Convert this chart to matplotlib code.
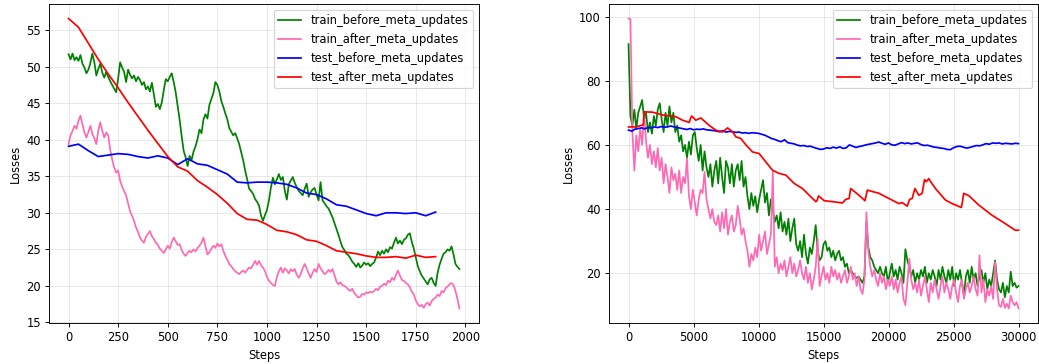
import numpy as np
import matplotlib
matplotlib.use("Agg")
import matplotlib.pyplot as plt

labels = ["train_before_meta_updates", "train_after_meta_updates",
          "test_before_meta_updates", "test_after_meta_updates"]
colors = ["green", "hotpink", "blue", "red"]

# ---------------- left panel (steps 0..1970, every 10) ----------------
left_train_before = [
    51.7, 51.0, 51.8, 50.9, 51.3, 50.8, 51.6, 50.4, 49.9, 49.1,
    49.6, 50.5, 51.8, 50.6, 48.8, 49.7, 50.4, 49.2, 48.5, 49.3,
    48.6, 48.0, 47.5, 47.0, 46.5, 48.4, 50.6, 49.9, 49.3, 47.9,
    49.6, 48.9, 48.4, 48.8, 48.0, 48.6, 48.2, 47.5, 47.9, 46.9,
    47.3, 46.6, 47.8, 46.2, 44.5, 44.9, 44.2, 45.1, 46.8, 48.3,
    48.0, 48.6, 49.1, 47.9, 46.5, 44.6, 42.7, 40.5, 38.5, 37.6,
    36.4, 37.8, 37.2, 38.4, 39.1, 40.1, 41.4, 40.9, 42.8, 43.5,
    42.9, 44.8, 45.6, 46.4, 47.9, 47.5, 46.6, 45.3, 44.5, 43.6,
    42.8, 41.6, 41.1, 40.6, 40.9, 40.2, 39.4, 38.3, 37.2, 35.8,
    34.6, 33.3, 33.0, 32.6, 31.9, 31.5, 31.0, 29.6, 28.9, 29.7,
    30.4, 31.7, 33.5, 34.8, 33.9, 34.6, 35.3, 34.5, 34.9, 33.0,
    31.8, 33.9, 34.4, 34.9, 34.1, 33.5, 33.0, 32.7, 32.4, 33.3,
    34.0, 32.2, 32.8, 33.2, 33.4, 32.5, 31.7, 34.2, 31.7, 31.3,
    30.9, 30.6, 30.0, 29.4, 28.6, 27.8, 27.0, 26.1, 25.3, 24.9,
    24.4, 24.2, 23.8, 23.3, 23.0, 22.6, 23.1, 22.5, 22.8, 23.2,
    22.9, 23.1, 22.7, 23.0, 23.2, 23.9, 24.7, 24.2, 24.8, 24.4,
    25.0, 24.6, 25.3, 25.1, 25.9, 26.6, 25.8, 26.2, 25.7, 26.3,
    26.5, 27.0, 27.2, 26.0, 25.1, 23.9, 22.7, 22.0, 21.4, 21.0,
    20.6, 20.2, 20.9, 21.1, 20.4, 20.0, 21.8, 22.9, 23.7, 24.4,
    24.6, 25.0, 24.8, 25.4, 24.3, 23.0, 22.6, 22.3,
]
left_train_after = [
    39.4, 40.6, 41.2, 41.9, 41.5, 42.6, 43.3, 42.1, 41.0, 40.3,
    41.1, 41.9, 40.8, 40.2, 39.4, 41.3, 42.4, 41.2, 40.3, 41.0,
    40.6, 38.6, 37.3, 36.2, 35.5, 35.8, 34.4, 33.6, 33.0, 32.4,
    31.3, 30.2, 29.6, 28.9, 28.0, 27.4, 26.6, 26.2, 25.9, 26.7,
    27.1, 27.5, 26.8, 26.4, 25.9, 25.6, 25.1, 24.8, 24.5, 25.0,
    25.5, 25.1, 26.0, 26.6, 26.1, 25.6, 25.7, 24.9, 24.4, 24.1,
    24.5, 24.8, 24.6, 25.0, 24.7, 25.2, 25.5, 25.9, 26.6, 25.4,
    24.3, 24.6, 25.1, 25.5, 25.2, 25.8, 25.4, 25.7, 24.8, 24.1,
    23.6, 23.0, 22.7, 22.3, 22.0, 21.8, 21.6, 21.9, 22.1, 21.8,
    22.2, 22.5, 22.4, 22.9, 23.4, 22.9, 23.4, 22.8, 22.5, 22.0,
    21.2, 20.7, 20.4, 20.1, 20.0, 21.2, 22.0, 22.5, 21.8, 22.4,
    22.1, 21.7, 22.3, 22.0, 22.3, 21.5, 21.1, 21.6, 22.4, 23.0,
    22.4, 21.7, 21.1, 21.8, 22.3, 21.9, 23.0, 22.4, 22.0, 21.6,
    21.8, 22.2, 21.9, 22.3, 21.5, 20.6, 20.2, 20.5, 20.1, 20.0,
    19.8, 19.5, 19.3, 19.6, 19.0, 18.7, 18.4, 18.5, 18.9, 18.8,
    19.1, 19.0, 19.2, 19.1, 19.3, 19.6, 19.4, 19.9, 20.0, 20.3,
    20.1, 20.7, 20.5, 21.1, 20.8, 21.5, 22.1, 21.4, 20.8, 20.7,
    20.4, 20.2, 19.8, 19.2, 18.8, 18.0, 17.5, 17.2, 17.4, 17.0,
    17.5, 17.7, 17.3, 17.9, 18.2, 18.4, 18.8, 18.6, 19.3, 19.1,
    19.7, 19.9, 20.2, 20.4, 20.1, 19.3, 18.2, 16.9,
]
left_test_steps = [0, 50, 100, 150, 200, 250, 300, 350, 400, 450,
                   500, 550, 600, 650, 700, 750, 800, 850, 900, 950,
                   1000, 1050, 1100, 1150, 1200, 1250, 1300, 1350, 1400, 1450,
                   1500, 1550, 1600, 1650, 1700, 1750, 1800, 1850]
left_test_before = [39.1, 39.4, 38.5, 37.7, 37.9, 38.1, 38.0, 37.7, 37.5, 37.8,
                    37.5, 36.6, 37.4, 36.7, 36.5, 35.9, 35.3, 34.2, 34.1, 34.2,
                    34.2, 34.1, 33.9, 33.4, 32.7, 32.5, 31.9, 31.1, 30.9, 30.4,
                    29.9, 29.6, 30.0, 30.0, 29.9, 30.0, 29.6, 30.1]
left_test_after = [56.6, 55.4, 53.2, 51.0, 49.0, 47.1, 45.1, 43.2, 41.3, 39.5,
                   37.7, 36.3, 35.7, 34.4, 33.5, 32.5, 31.3, 29.9, 29.1, 29.0,
                   28.4, 27.6, 27.4, 27.0, 26.3, 26.1, 25.5, 24.8, 24.6, 24.4,
                   24.1, 23.9, 23.9, 24.0, 23.8, 24.2, 23.9, 24.0]

# ---------------- right panel (steps 0..30000) ----------------
right_train_before = [
    91.4, 69.0, 66, 71, 65, 70, 72, 74, 68, 70,
    64, 67, 63.5, 69, 66, 71, 73, 68, 64, 70,
    66, 72, 67, 70, 64, 66, 61, 63, 58, 60,
    56, 61, 57, 63, 64, 59, 55, 60, 52, 58,
    53, 50, 54, 47, 52, 55, 48, 56, 50, 45,
    55, 53, 48, 54, 47, 52, 54, 49, 55, 47,
    50, 44, 40, 45, 41, 44, 39, 43, 46, 49,
    42, 45, 38, 43, 40, 36, 38, 34, 39, 33,
    36, 32, 37, 30, 34, 37, 29, 27, 30, 25,
    32, 26, 23, 28, 26, 30, 35, 27, 24, 25,
    29, 30, 27, 28, 25, 27, 24, 26, 27, 24,
    25, 22, 23, 20, 21, 20, 19, 18.5, 19, 18,
    17, 19, 36, 28, 25, 24, 22, 21, 20, 22,
    20, 19, 22, 17, 20, 23, 19, 21, 18, 22,
    20, 17, 27.5, 24, 22, 19, 21, 17, 20, 18,
    21, 19, 22, 17, 20, 18, 21, 19, 16, 21,
    18, 22, 19, 17, 21, 18, 22, 16, 20, 18,
    21, 17, 13, 19, 21, 17, 22, 18, 20, 16,
    19, 21, 17, 20, 15, 18, 16, 20, 24, 18,
    15, 14, 17, 12.5, 16, 14, 20.5, 16, 17, 15.5,
    16,
]
right_train_after = [
    99.4, 99.2, 64, 52, 63, 58, 65, 60, 70, 61,
    56, 60, 54, 58, 53, 59, 52, 56, 48, 54,
    50, 45, 53, 49, 51, 46, 52, 45, 50, 48,
    55.8, 44, 40, 46, 42, 38, 43, 46, 45, 51.6,
    43, 40, 37, 40, 36, 35, 38, 33, 39, 34,
    40, 32, 36, 38, 33, 35, 41, 37, 32, 34,
    30, 27, 22, 26, 24, 28, 25, 32, 27, 30,
    33, 26, 29, 32, 51.6, 22, 25, 20, 23, 21,
    24, 19, 22, 25, 20, 23, 19, 21, 24, 20,
    18, 22, 17, 20, 15, 18, 22, 30.8, 16, 19,
    22, 18, 20, 17, 22, 19, 21, 18, 20, 17,
    19, 21, 17, 19, 22, 18, 20, 16, 19, 15,
    13.5, 18, 39, 27, 22, 19, 21, 18, 16, 20,
    17, 19, 15, 18, 16, 19, 15, 18, 14, 17,
    19, 12, 10, 17, 24.6, 18, 15, 17, 14, 18,
    13, 16, 19, 15, 11, 17, 14, 18, 15, 12,
    16, 19, 14, 17, 15, 12, 16, 18, 14, 11,
    16, 18, 12, 15, 17, 14, 16, 19, 15, 13,
    25.6, 14, 18, 11, 15, 13, 16, 12, 23.5, 15,
    10, 9.5, 12, 9.2, 10.5, 9, 13, 11, 10, 11,
    9,
]
right_test_before = [
    64.6, 64.3, 64.9, 65.1, 65.3, 65.0, 65.4, 65.3, 65.6, 65.4,
    65.7, 65.5, 65.6, 65.9, 65.6, 65.4, 65.2, 65.0, 64.8, 65.1,
    64.7, 64.9, 64.8, 65.0, 64.7, 64.6, 64.5, 64.3, 64.1, 64.4,
    64.0, 64.2, 64.1, 63.9, 64.0, 63.7, 63.8, 63.6, 63.8, 63.7,
    63.6, 63.3, 63.0, 62.5, 62.0, 61.7, 61.3, 61.0, 61.6, 60.7,
    60.5, 60.3, 59.9, 59.7, 59.8, 59.5, 59.6, 59.2, 58.9, 58.6,
    58.7, 59.1, 58.9, 59.3, 59.0, 59.4, 58.9, 59.1, 60.0, 59.6,
    59.2, 59.5, 59.7, 60.0, 60.2, 60.4, 60.6, 60.9, 60.5, 60.2,
    60.6, 60.0, 59.9, 60.3, 60.7, 60.4, 60.6, 60.3, 60.5, 60.6,
    60.1, 59.8, 59.9, 59.6, 59.3, 59.2, 59.0, 58.9, 58.6, 58.5,
    59.1, 59.5, 59.6, 59.3, 59.0, 59.2, 59.5, 59.8, 59.7, 60.0,
    60.4, 60.2, 60.6, 60.5, 60.6, 60.3, 60.5, 60.4, 60.3, 60.5,
    60.4,
]
right_test_after_steps = [
    0, 560, 1080, 1150, 1200, 1850, 2620, 3640, 4150, 4670,
    4750, 4850, 5180, 5560, 6200, 6720, 7230, 7620, 8000, 8260,
    8640, 9030, 9540, 10050, 10560, 11080, 11590, 12100, 12740, 13380,
    13900, 14410, 14500, 14620, 15050, 15700, 16460, 16700, 16970, 17090,
    17730, 18190, 18370, 19270, 20030, 20800, 21060, 21440, 21620, 21820,
    22030, 22330, 22590, 22770, 22900, 23100, 23230, 23610, 24380, 24890,
    25600, 25700, 25780, 26170, 26930, 27950, 28970, 29740, 30000]
right_test_after = [
    65.6, 65.6, 66.2, 66.5, 70.3, 70.2, 69.3, 68.8, 67.7, 67.0,
    68.0, 69.0, 67.7, 68.4, 66.1, 64.6, 64.0, 65.3, 64.1, 62.5,
    62.0, 60.0, 57.8, 57.3, 54.7, 52.1, 51.1, 50.6, 48.0, 46.4,
    44.3, 42.3, 42.6, 44.1, 42.6, 42.3, 41.9, 43.0, 43.3, 46.4,
    44.3, 42.6, 45.9, 44.9, 43.3, 41.7, 42.0, 40.9, 43.0, 43.3,
    46.4, 44.3, 44.9, 49.2, 48.5, 49.5, 48.6, 46.4, 42.8, 41.7,
    40.5, 42.5, 44.9, 44.2, 41.3, 38.1, 35.5, 33.4, 33.4]

DPI = 83
plt.rcParams['font.family'] = ['DejaVu Sans']
fig = plt.figure(figsize=(1039 / DPI, 364 / DPI), dpi=DPI)
axL = fig.add_axes([49/1039, 41/364, 430/1039, 319/364])
axR = fig.add_axes([609/1039, 41/364, 429/1039, 319/364])

# left
xl_tr = np.linspace(0, 1970, len(left_train_before))
xl_ta = np.linspace(0, 1970, len(left_train_after))
axL.plot(xl_tr, left_train_before, color=colors[0], lw=1.5, label=labels[0])
axL.plot(xl_ta, left_train_after, color=colors[1], lw=1.5, label=labels[1])
axL.plot(left_test_steps, left_test_before, color=colors[2], lw=1.5, label=labels[2])
axL.plot(left_test_steps, left_test_after, color=colors[3], lw=1.5, label=labels[3])

# right
xr_tb = np.linspace(0, 30000, len(right_train_before))
xr_ta = np.linspace(0, 30000, len(right_train_after))
xr_eb = np.linspace(0, 30000, len(right_test_before))
axR.plot(xr_tb, right_train_before, color=colors[0], lw=1.5, label=labels[0])
axR.plot(xr_ta, right_train_after, color=colors[1], lw=1.5, label=labels[1])
axR.plot(xr_eb, right_test_before, color=colors[2], lw=1.5, label=labels[2])
axR.plot(right_test_after_steps, right_test_after, color=colors[3], lw=1.5, label=labels[3])

for ax in (axL, axR):
    ax.set_xlabel("Steps", fontsize=10)
    ax.set_ylabel("Losses", fontsize=10)
    ax.grid(True, color='#b0b0b0', alpha=0.3, linewidth=0.8)
    ax.tick_params(labelsize=10)
    ax.legend(loc='upper right', fontsize=10)

axL.set_xticks([0, 250, 500, 750, 1000, 1250, 1500, 1750, 2000])
axL.set_yticks([15, 20, 25, 30, 35, 40, 45, 50, 55])
axR.set_xticks([0, 5000, 10000, 15000, 20000, 25000, 30000])
axR.set_yticks([20, 40, 60, 80, 100])

fig.savefig("out.png", dpi=DPI)
